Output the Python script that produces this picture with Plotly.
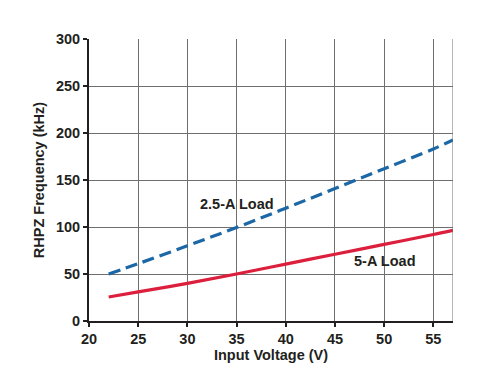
import plotly.graph_objects as go

voltage = [22, 25, 30, 35, 40, 45, 50, 55, 57]
load_2p5A = [50, 61, 80, 99.5, 120, 141, 162, 183, 192.5]
load_5A = [25.5, 31, 40, 50, 60.5, 71, 81.5, 92, 96.5]
x_ticks = [20, 25, 30, 35, 40, 45, 50, 55]
y_ticks = [0, 50, 100, 150, 200, 250, 300]

fig = go.Figure()
fig.add_trace(go.Scatter(x=voltage, y=load_2p5A, mode="lines",
                         line=dict(color="#1c67a6", width=3.2, dash="12px,6px", shape="spline"),
                         showlegend=False))
fig.add_trace(go.Scatter(x=voltage, y=load_5A, mode="lines",
                         line=dict(color="#dc1f3c", width=3.2, shape="spline"),
                         showlegend=False))

font = dict(family="Liberation Sans, Arial, sans-serif", size=14.5, color="#231f20")
fig.add_annotation(x=35, y=125, text="<b>2.5-A Load</b>", showarrow=False, font=font)
fig.add_annotation(x=50.1, y=64, text="<b>5-A Load</b>", showarrow=False, font=font)

fig.update_layout(
    width=491, height=369,
    margin=dict(l=81, r=46, t=31, b=56),
    paper_bgcolor="white", plot_bgcolor="white",
    font=font,
)
fig.update_xaxes(range=[20, 57], tickvals=x_ticks, ticktext=[f"<b>{v}</b>" for v in x_ticks],
                 showgrid=True, gridcolor="#6f6f6f", gridwidth=1,
                 showline=True, linecolor="#231f20", linewidth=2,
                 ticks="outside", ticklen=4, tickcolor="#231f20", tickwidth=2,
                 zeroline=False, mirror=False,
                 title=dict(text="<b>Input Voltage (V)</b>", font=font, standoff=2))
fig.update_yaxes(range=[0, 300], tickvals=y_ticks, ticktext=[f"<b>{v}</b>" for v in y_ticks],
                 showgrid=True, gridcolor="#6f6f6f", gridwidth=1,
                 showline=True, linecolor="#231f20", linewidth=2,
                 ticks="outside", ticklen=4, tickcolor="#231f20", tickwidth=2,
                 zeroline=False,
                 title=dict(text="<b>RHPZ Frequency (kHz)</b>", font=font, standoff=8))
# right border line at x=57
fig.add_shape(type="line", xref="x", yref="paper", x0=57, x1=57, y0=0, y1=1,
              line=dict(color="#6f6f6f", width=1))

fig.write_html("out.html")
